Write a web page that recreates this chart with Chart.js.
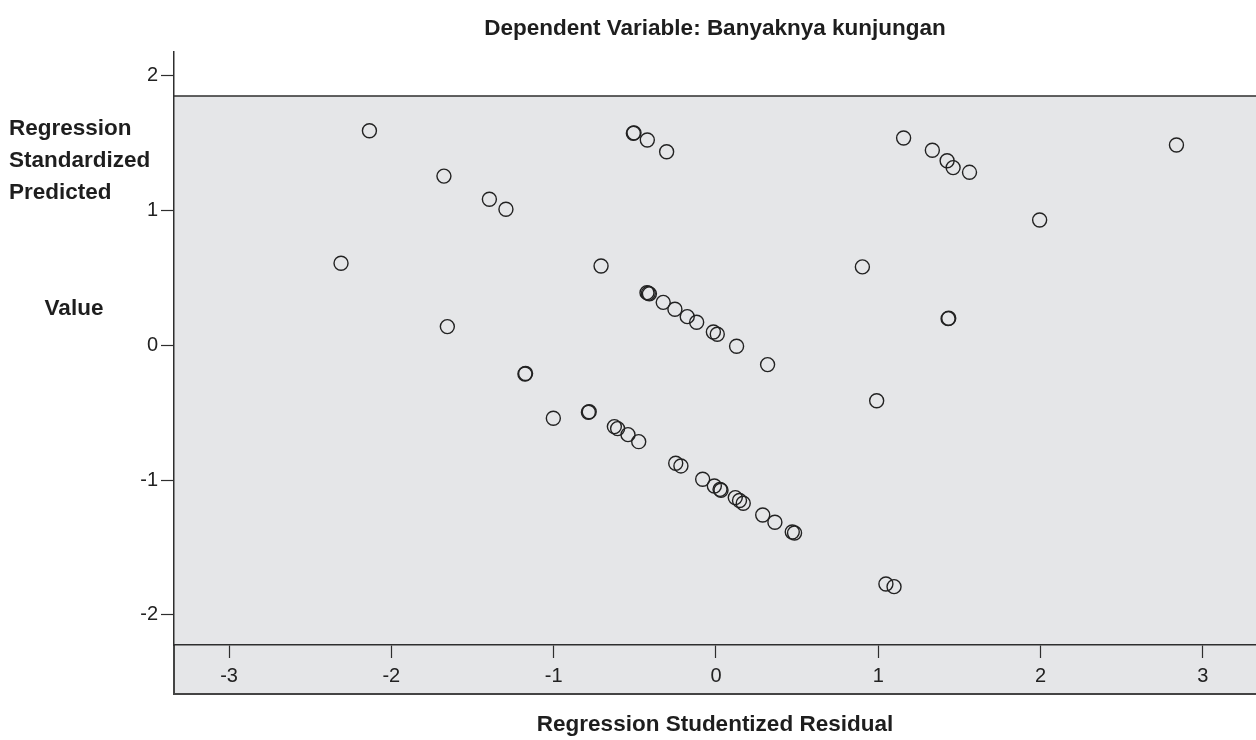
<!DOCTYPE html>
<html>
<head>
<meta charset="utf-8">
<script src="https://cdn.jsdelivr.net/npm/chart.js@4.4.1/dist/chart.umd.min.js"></script>
<style>
  html, body { margin: 0; padding: 0; background: #ffffff; }
  #wrap { width: 1256px; height: 740px; position: relative; }
</style>
</head>
<body>
<div id="wrap"><canvas id="c" width="1256" height="740"></canvas></div>
<script>
// ---- Text ----
const chartTitle = 'Dependent Variable: Banyaknya kunjungan';
const xAxisTitle = 'Regression Studentized Residual';
const yAxisTitleLines = ['Regression', 'Standardized', 'Predicted'];
const yAxisTitleLast = 'Value';

// ---- Ticks ----
const xTickValues = [-3, -2, -1, 0, 1, 2, 3];
const yTickValues = [-2, -1, 0, 1, 2];

// ---- Data: Regression Studentized Residual (x) / Regression Standardized Predicted Value (y) ----
const studentizedResidual = [
  -2.135, -1.676, -1.396, -1.294, -2.310, -1.655,
  -0.509, -0.505, -0.423, -0.304, -0.708,
  -0.425, -0.417, -0.410, -0.325, -0.253, -0.177, -0.119, -0.016, 0.008, 0.127, 0.318,
  -1.177, -1.173, -1.002, -0.786, -0.781, -0.626, -0.606, -0.542, -0.476,
  -0.248, -0.216, -0.082, -0.010, 0.025, 0.031, 0.119, 0.145, 0.168, 0.288, 0.363, 0.470, 0.484,
  0.902, 1.156, 1.333, 1.424, 1.461, 1.562, 2.837, 1.994, 1.430, 1.434, 0.990, 1.047, 1.097
];
const standardizedPredicted = [
  1.594, 1.257, 1.085, 1.011, 0.610, 0.140,
  1.575, 1.578, 1.525, 1.438, 0.590,
  0.392, 0.387, 0.383, 0.320, 0.269, 0.214, 0.172, 0.100, 0.083, -0.006, -0.142,
  -0.212, -0.208, -0.540, -0.496, -0.492, -0.602, -0.617, -0.662, -0.714,
  -0.874, -0.894, -0.993, -1.043, -1.068, -1.074, -1.129, -1.151, -1.171, -1.258, -1.312, -1.384, -1.392,
  0.583, 1.540, 1.449, 1.371, 1.320, 1.285, 1.488, 0.931, 0.199, 0.202, -0.410, -1.770, -1.790
];

// ---- Axis ranges / frame ----
const xRange = [-3.339, 3.327];
const yRange = [-2.223, 2.178];
const panelTopValue = 1.852;   // upper edge of the grey panel (data units)
const frameBelowAxis = 49;     // grey frame continues below the x axis line

const FONT = '"Liberation Sans", Arial, Helvetica, sans-serif';
const INK = '#222222';

const points = studentizedResidual.map((v, i) => ({ x: v, y: standardizedPredicted[i] }));

const framePlugin = {
  id: 'spssFrame',
  beforeDraw(chart) {
    const { ctx, chartArea: a, scales: { y } } = chart;
    const top = y.getPixelForValue(panelTopValue);
    const bottom = a.bottom + frameBelowAxis;
    ctx.save();
    ctx.fillStyle = '#e5e6e8';
    ctx.fillRect(a.left, top, a.right - a.left, bottom - top);
    ctx.strokeStyle = '#2e2e2e';
    ctx.lineWidth = 1.5;
    ctx.beginPath();
    ctx.moveTo(a.left, top); ctx.lineTo(a.right, top);
    ctx.stroke();
    ctx.strokeStyle = '#444444';
    ctx.lineWidth = 2;
    ctx.beginPath();
    ctx.moveTo(a.left, bottom); ctx.lineTo(a.right, bottom);
    ctx.moveTo(a.left, a.bottom); ctx.lineTo(a.left, bottom + 1);
    ctx.stroke();
    ctx.restore();
  },
  afterDraw(chart) {
    const { ctx, chartArea: a } = chart;
    const cx = (a.left + a.right) / 2;
    ctx.save();
    ctx.fillStyle = '#1e1e1e';
    ctx.font = 'bold 22.5px ' + FONT;
    ctx.textBaseline = 'alphabetic';
    ctx.textAlign = 'center';
    ctx.fillText(chartTitle, cx, 35);
    ctx.fillText(xAxisTitle, cx, 731);
    ctx.textAlign = 'left';
    yAxisTitleLines.forEach((t, i) => ctx.fillText(t, 9, 135 + i * 32));
    ctx.textAlign = 'center';
    ctx.fillText(yAxisTitleLast, 74, 315);
    ctx.restore();
  }
};

new Chart(document.getElementById('c'), {
  type: 'scatter',
  data: {
    datasets: [{
      data: points,
      backgroundColor: 'rgba(0,0,0,0)',
      borderColor: '#222222',
      borderWidth: 1.4,
      pointRadius: 7,
      pointHoverRadius: 7,
      pointStyle: 'circle'
    }]
  },
  options: {
    responsive: false,
    animation: false,
    devicePixelRatio: 1,
    events: [],
    layout: { autoPadding: false, padding: { top: 52, right: 0, bottom: 0, left: 0 } },
    plugins: { legend: { display: false }, tooltip: { enabled: false }, title: { display: false } },
    scales: {
      x: {
        type: 'linear',
        min: xRange[0],
        max: xRange[1],
        afterBuildTicks: s => { s.ticks = xTickValues.map(v => ({ value: v })); },
        afterFit: s => { s.height = 95; },
        border: { display: true, color: '#2e2e2e', width: 1.5 },
        grid: { display: true, drawOnChartArea: false, drawTicks: true, tickLength: 13, tickColor: '#2e2e2e', tickWidth: 1.2 },
        ticks: { color: INK, font: { family: FONT, size: 20 }, padding: 6, maxRotation: 0, autoSkip: false,
                 callback: v => String(v) }
      },
      y: {
        type: 'linear',
        min: yRange[0],
        max: yRange[1],
        afterBuildTicks: s => { s.ticks = yTickValues.map(v => ({ value: v })); },
        afterFit: s => { s.width = 174; },
        border: { display: true, color: '#2e2e2e', width: 1.5 },
        grid: { display: true, drawOnChartArea: false, drawTicks: true, tickLength: 13, tickColor: '#2e2e2e', tickWidth: 1.2 },
        ticks: { color: INK, font: { family: FONT, size: 20 }, padding: 3, autoSkip: false,
                 callback: v => String(v) }
      }
    }
  },
  plugins: [framePlugin]
});
</script>
</body>
</html>
